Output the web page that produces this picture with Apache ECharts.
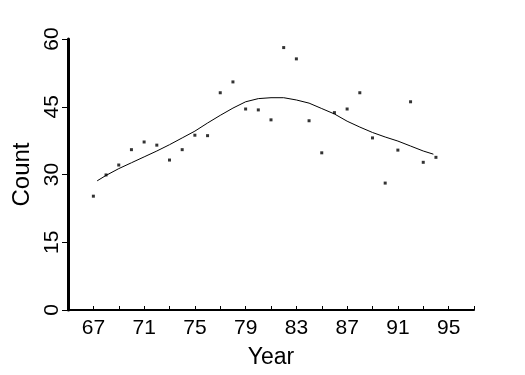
<!DOCTYPE html>
<html>
<head>
<meta charset="utf-8">
<script src="https://cdn.jsdelivr.net/npm/echarts@6/dist/echarts.min.js"></script>
<style>html,body{margin:0;padding:0;background:#fff}#c{width:525px;height:375px}</style>
</head>
<body>
<div id="c"></div>
<script>
const years = [67,68,69,70,71,72,73,74,75,76,77,78,79,80,81,82,83,84,85,86,87,88,89,90,91,92,93,94];
const counts = [25.2,29.9,32.1,35.5,37.2,36.5,33.2,35.5,38.7,38.6,48.1,50.5,44.5,44.3,42.1,58.1,55.6,41.9,34.8,43.7,44.5,48.1,38.1,28.1,35.4,46.1,32.7,33.8];
const smoothYears = [67.3,68,69,70,71,72,73,74,75,76,77,78,79,80,81,82,83,84,85,86,87,88,89,90,91,92,93,93.8];
const smoothValues = [28.6,29.8,31.3,32.6,33.9,35.2,36.6,38.1,39.6,41.4,43.1,44.7,46.1,46.8,47.0,47.0,46.5,45.8,44.6,43.4,41.8,40.5,39.3,38.3,37.4,36.3,35.2,34.5];
const xTicks = [67,69,71,73,75,77,79,81,83,85,87,89,91,93,95,97];
const xLabels = [67,71,75,79,83,87,91,95];
const yTicks = [0,15,30,45,60];

const font = 'Liberation Sans';
const chart = echarts.init(document.getElementById('c'), null, {renderer: 'canvas'});
chart.setOption({
  animation: false,
  backgroundColor: '#fff',
  grid: {left: 68, right: 51, top: 39, bottom: 65, containLabel: false},
  xAxis: {
    type: 'value', min: 65, max: 97,
    name: 'Year', nameLocation: 'middle', nameGap: 36,
    nameTextStyle: {fontFamily: font, fontSize: 23, color: '#000'},
    axisLine: {show: true, onZero: false, lineStyle: {color: '#000', width: 2}},
    axisTick: {show: true, inside: true, length: 4, customValues: xTicks, lineStyle: {color: '#000', width: 1}},
    axisLabel: {customValues: xLabels, margin: 8, fontFamily: font, fontSize: 21, color: '#000'},
    splitLine: {show: false}
  },
  yAxis: {
    type: 'value', min: 0, max: 60,
    name: 'Count', nameLocation: 'middle', nameGap: 34, nameRotate: 90,
    nameTextStyle: {fontFamily: font, fontSize: 24, color: '#000'},
    axisLine: {show: true, lineStyle: {color: '#000', width: 3}},
    axisTick: {show: true, inside: false, length: 6, customValues: yTicks, lineStyle: {color: '#000', width: 1}},
    axisLabel: {customValues: yTicks, rotate: 90, margin: 5, fontFamily: font, fontSize: 21, color: '#000'},
    splitLine: {show: false}
  },
  series: [
    {
      type: 'scatter',
      data: years.map((y, i) => [y, counts[i]]),
      symbol: 'rect', symbolSize: 3,
      itemStyle: {color: '#000'}
    },
    {
      type: 'line',
      data: smoothYears.map((y, i) => [y, smoothValues[i]]),
      showSymbol: false, symbol: 'none',
      lineStyle: {color: '#000', width: 1}
    }
  ]
});
</script>
</body>
</html>
